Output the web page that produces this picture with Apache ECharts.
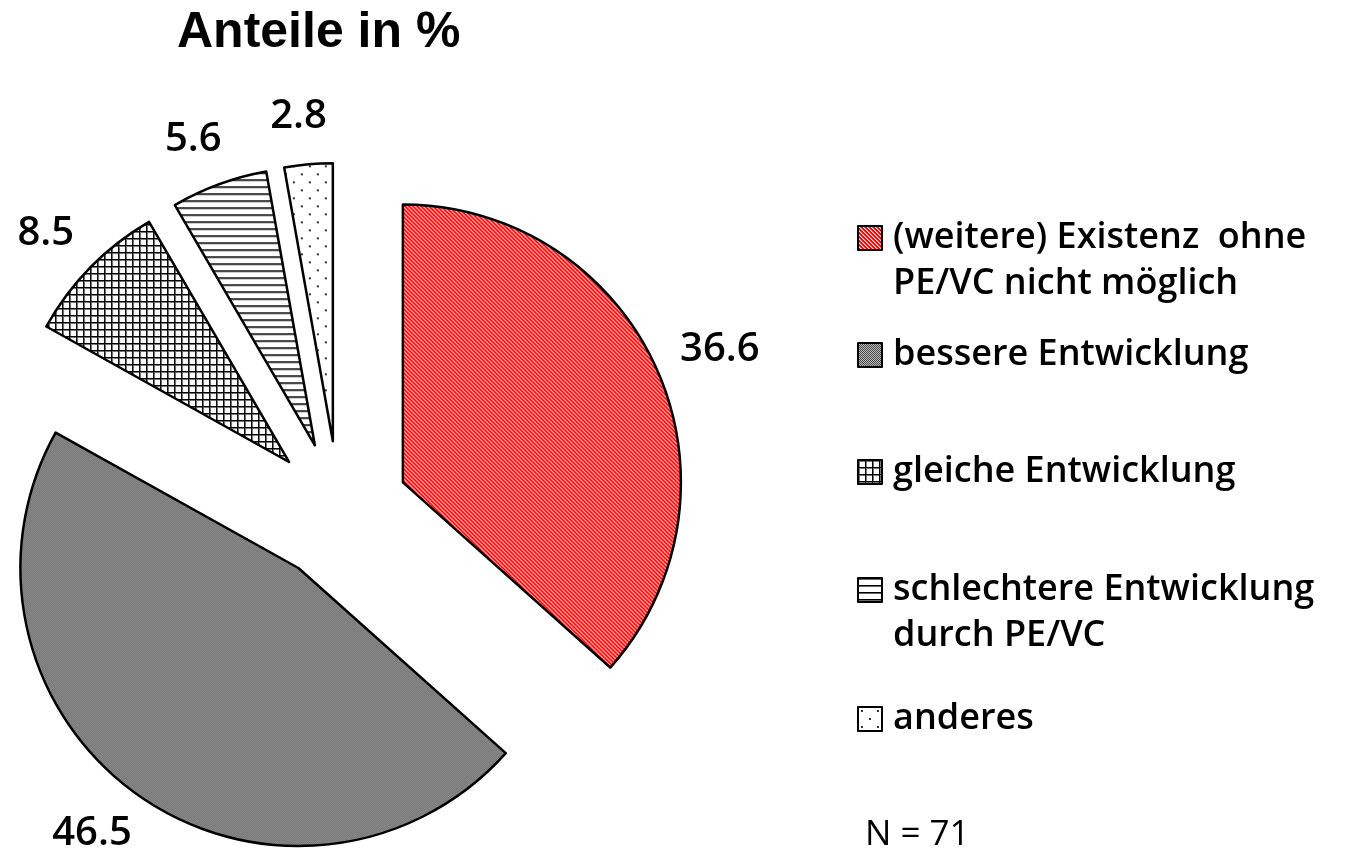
<!DOCTYPE html>
<html><head><meta charset="utf-8">
<script src="https://cdn.jsdelivr.net/npm/echarts@6/dist/echarts.min.js"></script>
<style>html,body{margin:0;padding:0;background:#fff}#c{width:1352px;height:861px}</style>
</head><body><div id="c"></div>
<script>
// ---- data ----
const categories = [
  '(weitere) Existenz  ohne\nPE/VC nicht möglich',
  'bessere Entwicklung',
  'gleiche Entwicklung',
  'schlechtere Entwicklung\ndurch PE/VC',
  'anderes'
];
const shares = [36.6, 46.5, 8.5, 5.6, 2.8];
const titleText = 'Anteile in %';
const noteText = 'N = 71';

// ---- fill patterns ----
function makePattern(w, h, draw) {
  const c = document.createElement('canvas');
  c.width = w; c.height = h;
  const g = c.getContext('2d');
  draw(g, w, h);
  return { image: c, repeat: 'repeat' };
}
const patterns = [
  makePattern(4, 4, g => {
    g.fillStyle = '#ff0000'; g.fillRect(0, 0, 4, 4);
    for (let y = 0; y < 4; y++) for (let x = 0; x < 4; x++) {
      const k = ((x - y) % 4 + 4) % 4;
      if (k === 0) { g.fillStyle = '#ffd6d6'; g.fillRect(x, y, 1, 1); }
      else if (k === 1) { g.fillStyle = '#ff6a6a'; g.fillRect(x, y, 1, 1); }
    }
  }),
  makePattern(2, 2, g => {
    g.fillStyle = '#454545'; g.fillRect(0, 0, 2, 2);
    g.fillStyle = '#bdbdbd'; g.fillRect(0, 0, 1, 1); g.fillRect(1, 1, 1, 1);
  }),
  makePattern(7, 7, g => {
    g.fillStyle = '#ffffff'; g.fillRect(0, 0, 7, 7);
    g.fillStyle = '#777'; g.fillRect(1, 0, 1, 7); g.fillRect(0, 1, 7, 1);
    g.fillStyle = '#000'; g.fillRect(0, 0, 1, 7); g.fillRect(0, 0, 7, 1);
  }),
  makePattern(8, 7, g => {
    g.fillStyle = '#ffffff'; g.fillRect(0, 0, 8, 7);
    g.fillStyle = '#000'; g.fillRect(0, 0, 8, 1);
    g.fillStyle = '#666'; g.fillRect(0, 1, 8, 1);
  }),
  makePattern(16, 16, g => {
    g.fillStyle = '#ffffff'; g.fillRect(0, 0, 16, 16);
    g.fillStyle = '#333'; g.fillRect(3, 3, 2, 2); g.fillRect(11, 11, 2, 2);
  })
];

const legendFont = '"Open Sans", "Noto Sans", sans-serif';
const legendIconCenters = [238, 355, 472, 590, 719];
const LH = 46;

// mid angle of every slice (clockwise from 12 o'clock), derived from the shares
const total = shares.reduce((a, b) => a + b, 0);
const midDirs = [];
(function () {
  let acc = 0;
  shares.forEach(v => {
    const mid = (acc + v / 2) / total * 2 * Math.PI;
    midDirs.push([Math.sin(mid), -Math.cos(mid)]);
    acc += v;
  });
})();

const chart = echarts.init(document.getElementById('c'), null, { renderer: 'canvas' });

const pieData = categories.map((name, i) => ({
  name: name,
  value: shares[i],
  selected: true,
  itemStyle: { color: patterns[i], borderColor: '#000', borderWidth: 2.5 }
}));

const legends = categories.map((name, i) => {
  const multi = name.indexOf('\n') >= 0;
  const boxH = multi ? LH * 3 : LH;
  return {
    data: [name],
    orient: 'vertical',
    left: 857,
    top: legendIconCenters[i] - boxH / 2,
    padding: 0,
    icon: 'rect',
    itemWidth: 24,
    itemHeight: 24,
    selectedMode: false,
    formatter: n => (multi ? '\n' + n : n),
    itemStyle: { borderColor: '#000', borderWidth: 2 },
    textStyle: {
      fontFamily: legendFont, fontSize: 36, fontWeight: 600, color: '#000',
      lineHeight: LH, padding: [0, 0, 0, 6]
    }
  };
});

chart.setOption({
  animation: false,
  backgroundColor: '#ffffff',
  title: [
    { text: titleText, left: 177, top: 8, padding: 0,
      textStyle: { fontFamily: '"Liberation Sans", Arial, sans-serif', fontSize: 50, fontWeight: 'bold', color: '#000' } },
    { text: noteText, left: 865, top: 818, padding: 0,
      textStyle: { fontFamily: legendFont, fontSize: 35, fontWeight: 'normal', color: '#000' } }
  ],
  legend: legends,
  series: [{
    type: 'pie',
    center: [339, 511],
    radius: 278,
    startAngle: 90,
    clockwise: true,
    selectedMode: 'multiple',
    selectedOffset: 70,
    avoidLabelOverlap: false,
    emphasis: { disabled: true },
    label: {
      show: true, position: 'outside', formatter: '{c}',
      fontFamily: legendFont, fontSize: 40, fontWeight: 600, color: '#000',
      distanceToLabelLine: 0
    },
    labelLine: { show: false, length: 36, length2: 0 },
    // push each label box outwards along its slice direction so it sits just outside the arc
    labelLayout: params => {
      const d = midDirs[params.dataIndex];
      const w = params.labelRect.width, h = params.labelRect.height;
      const sx = Math.sign(d[0]) * Math.sqrt(Math.abs(d[0]));
      return { align: 'center', verticalAlign: 'middle', dx: sx * w * 0.4, dy: d[1] * h * 0.3 };
    },
    data: pieData
  }]
});
</script>
</body></html>
